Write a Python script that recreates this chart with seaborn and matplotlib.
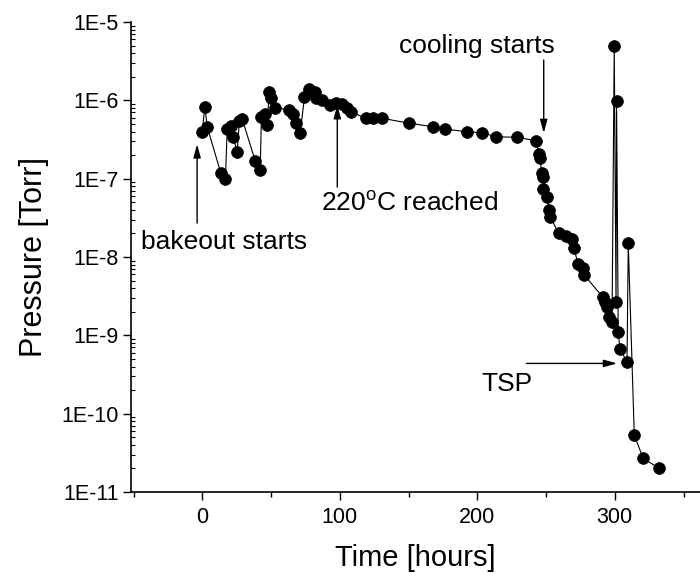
import numpy as np
import pandas as pd
import matplotlib
matplotlib.use("Agg")
import matplotlib.pyplot as plt
import matplotlib.ticker as mticker
import seaborn as sns

# ---- data ----
time_hours = [-0.2, 1.7, 3.6, 13.3, 16.7, 18.0, 20.4, 22.5, 25.2, 26.9, 28.9,
              38.3, 42.0, 42.9, 45.3, 46.8, 48.7, 49.9, 53.1, 62.8, 66.2, 68.1,
              71.1, 74.2, 77.8, 81.7, 82.7, 87.1, 92.9, 97.2, 101.3, 104.9,
              108.1, 119.1, 123.9, 130.7, 150.5, 168.0, 176.7, 192.2, 203.4,
              213.6, 228.9, 243.0,
              244.6, 245.6, 246.8, 247.5, 248.0, 250.4, 252.4, 253.1, 259.1,
              264.5, 268.9, 270.3, 273.3, 276.6, 277.5, 291.1, 293.1, 294.3,
              296.0, 298.0, 299.6, 300.9, 301.3, 302.5, 303.8, 308.9, 309.8,
              314.2, 320.7, 331.9]
pressure_torr = [3.9e-7, 8.3e-7, 4.5e-7, 1.19e-7, 9.9e-8, 4.3e-7, 4.7e-7, 3.4e-7,
                 2.17e-7, 5.5e-7, 5.8e-7, 1.7e-7, 1.29e-7, 6.2e-7, 6.7e-7, 4.8e-7,
                 1.26e-6, 1.08e-6, 8.1e-7, 7.5e-7, 6.6e-7, 5.1e-7, 3.8e-7, 1.09e-6,
                 1.39e-6, 1.29e-6, 1.06e-6, 1.01e-6, 8.7e-7, 9.3e-7, 8.9e-7, 7.9e-7,
                 7.1e-7, 5.9e-7, 5.9e-7, 5.9e-7, 5.1e-7, 4.6e-7, 4.3e-7, 3.97e-7,
                 3.86e-7, 3.43e-7, 3.37e-7, 3.05e-7,
                 2.06e-7, 1.82e-7, 1.17e-7, 1.06e-7, 7.3e-8, 5.9e-8, 3.97e-8,
                 3.26e-8, 2.0e-8, 1.83e-8, 1.68e-8, 1.29e-8, 8.1e-9, 7.3e-9,
                 5.96e-9, 3.1e-9, 2.68e-9, 2.27e-9, 1.72e-9, 1.49e-9, 4.9e-6,
                 2.7e-9, 9.9e-7, 1.09e-9, 6.7e-10, 4.6e-10, 1.49e-8, 5.3e-11,
                 2.68e-11, 2.03e-11]

x_ticks = [0, 100, 200, 300]
x_tick_labels = ["0", "100", "200", "300"]
y_ticks = [1e-11, 1e-10, 1e-9, 1e-8, 1e-7, 1e-6, 1e-5]
y_tick_labels = ["1E-11", "1E-10", "1E-9", "1E-8", "1E-7", "1E-6", "1E-5"]

annotations = [
    # text, text position (t, P), ha, arrow tail (t, P), arrow head (t, P)
    ("bakeout starts", (-44.6, 1.26e-8), "left", (-3.9, 2.71e-8), (-3.9, 2.75e-7)),
    ("220$^{\\mathregular{o}}$C reached", (86.4, 3.9e-8), "left", (98.1, 7.8e-8), (98.1, 8.7e-7)),
    ("cooling starts", (199.5, 4.0e-6), "center", (248.3, 3.27e-6), (248.3, 3.82e-7)),
    ("TSP", (240.3, 1.94e-10), "right", (235.7, 4.38e-10), (301.7, 4.38e-10)),
]

# ---- style ----
sns.set_style("ticks")
plt.rcParams["font.family"] = ["Liberation Sans", "DejaVu Sans"]
plt.rcParams["mathtext.fontset"] = "custom"
plt.rcParams["mathtext.rm"] = "Liberation Sans"

fig = plt.figure(figsize=(7.0, 5.76), dpi=100)
ax = fig.add_axes([131 / 700, 1 - 492 / 576, 1 - 131 / 700, (492 - 22) / 576])

df = pd.DataFrame({"Time": time_hours, "Pressure": pressure_torr})
sns.lineplot(data=df, x="Time", y="Pressure", sort=False, estimator=None,
             color="black", linewidth=0.8, marker="o", markersize=8.5,
             markeredgecolor="black", markeredgewidth=0.5, ax=ax)

ax.set_yscale("log")
ax.set_xlim(-52, 362)
ax.set_ylim(1e-11, 1e-5)

ax.xaxis.set_major_locator(mticker.FixedLocator(x_ticks))
ax.set_xticklabels(x_tick_labels)
ax.xaxis.set_minor_locator(mticker.MultipleLocator(50))
ax.yaxis.set_major_locator(mticker.FixedLocator(y_ticks))
ax.set_yticklabels(y_tick_labels)
ax.yaxis.set_minor_locator(mticker.LogLocator(base=10, subs=np.arange(2, 10)))
ax.yaxis.set_minor_formatter(mticker.NullFormatter())

ax.tick_params(axis="both", which="major", direction="out", length=6, width=1,
               labelsize=15.5, color="black", labelcolor="black")
ax.tick_params(axis="x", which="minor", direction="out", length=3.5, width=1, color="black")
ax.tick_params(axis="y", which="minor", direction="in", length=3, width=0.8, color="black")
ax.tick_params(axis="x", which="major", pad=5)
ax.tick_params(axis="y", which="major", pad=3)

for side in ["top", "right"]:
    ax.spines[side].set_visible(False)
for side in ["left", "bottom"]:
    ax.spines[side].set_color("black")
    ax.spines[side].set_linewidth(1.2)

ax.set_xlabel("Time [hours]", fontsize=21, color="black", labelpad=11)
ax.set_ylabel("Pressure [Torr]", fontsize=22, color="black", labelpad=9)
ax.grid(False)

for text, tpos, ha, tail, head in annotations:
    ax.text(tpos[0], tpos[1], text, ha=ha, va="baseline", fontsize=19, color="black")
    ax.annotate("", xy=head, xytext=tail,
                arrowprops=dict(arrowstyle="-|>,head_length=0.8,head_width=0.22",
                                mutation_scale=10, lw=1, color="black",
                                shrinkA=0, shrinkB=0))

fig.savefig("out.png", dpi=100)
